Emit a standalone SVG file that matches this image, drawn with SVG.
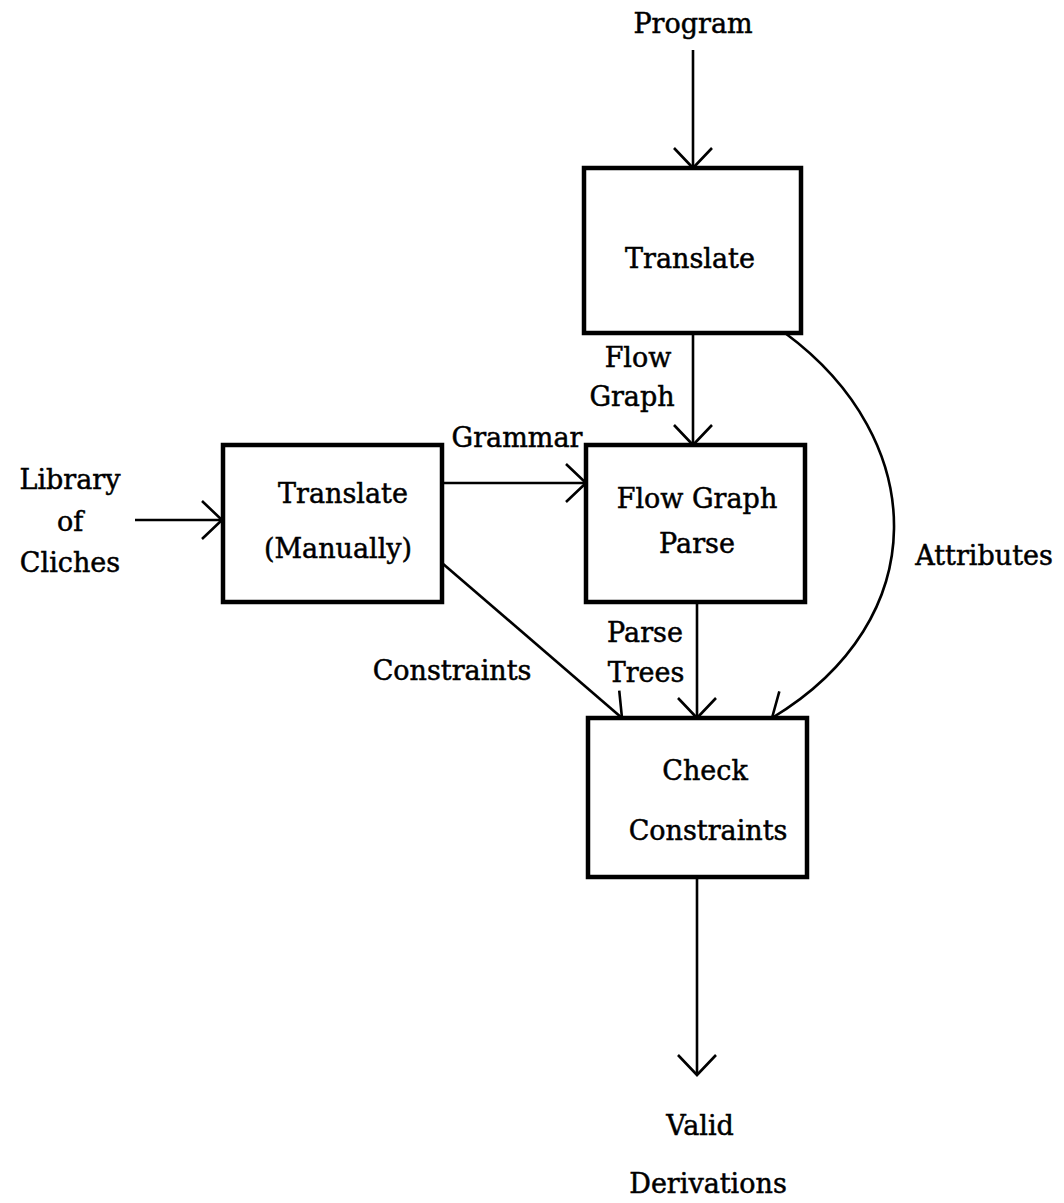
<svg xmlns="http://www.w3.org/2000/svg" width="1064" height="1203" viewBox="0 0 1064 1203">
<style>
.box{fill:#fff;stroke:#000;stroke-width:4.5}
.c{fill:none;stroke:#000;stroke-width:2.6}
text{font-family:"DejaVu Serif","Liberation Serif",serif;font-size:27px;fill:#000;stroke:#000;stroke-width:0.5;text-anchor:middle}
</style>
<defs>
<marker id="ah" markerUnits="userSpaceOnUse" markerWidth="40" markerHeight="44" viewBox="-24 -22 28 44" refX="0" refY="0" orient="auto">
<path d="M-20,-19 L0,0 L-20,19" fill="none" stroke="#000" stroke-width="2.6"/>
</marker>
</defs>
<rect width="1064" height="1203" fill="#fff"/>
<g id="connectors">
<line class="c" x1="693" y1="50" x2="693" y2="168" marker-end="url(#ah)"/>
<line class="c" x1="693" y1="333" x2="693" y2="445" marker-end="url(#ah)"/>
<line class="c" x1="135" y1="520" x2="222" y2="520" marker-end="url(#ah)"/>
<line class="c" x1="442" y1="483" x2="586" y2="483" marker-end="url(#ah)"/>
<line class="c" x1="442" y1="563" x2="622" y2="718" marker-end="url(#ah)"/>
<line class="c" x1="697" y1="602" x2="697" y2="718" marker-end="url(#ah)"/>
<path class="c" d="M785,333 C930,440 935,620 772,718" marker-end="url(#ah)"/>
<line class="c" x1="697" y1="877" x2="697" y2="1075" marker-end="url(#ah)"/>
<text x="638" y="367">Flow</text>
<text x="632" y="406">Graph</text>
<text x="517" y="447">Grammar</text>
<text x="452" y="680">Constraints</text>
<text x="645" y="642">Parse</text>
<text x="646" y="682">Trees</text>
<text x="984" y="565">Attributes</text>
</g>
<g id="program"><text x="693" y="33">Program</text></g>
<g id="library"><text x="70" y="489">Library</text><text x="70" y="531">of</text><text x="70" y="572">Cliches</text></g>
<g id="translate"><rect class="box" x="584" y="168" width="217" height="165"/><text x="690" y="268">Translate</text></g>
<g id="translate-manually"><rect class="box" x="223" y="445" width="219" height="157"/><text x="343" y="503">Translate</text><text x="338" y="558">(Manually)</text></g>
<g id="flow-graph-parse"><rect class="box" x="586" y="445" width="219" height="157"/><text x="697" y="508">Flow Graph</text><text x="697" y="553">Parse</text></g>
<g id="check-constraints"><rect class="box" x="588" y="718" width="219" height="159"/><text x="705" y="780">Check</text><text x="708" y="840">Constraints</text></g>
<g id="valid"><text x="700" y="1135">Valid</text><text x="708" y="1193">Derivations</text></g>
</svg>
